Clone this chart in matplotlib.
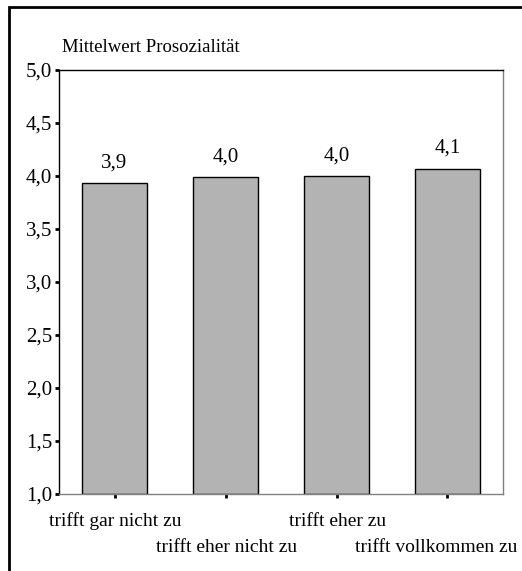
import numpy as np
import matplotlib.pyplot as plt
from matplotlib.patches import Rectangle

plt.rcParams['font.family'] = ['Liberation Serif', 'DejaVu Serif']

categories = ["trifft gar nicht zu", "trifft eher nicht zu", "trifft eher zu", "trifft vollkommen zu"]
means = [3.93, 3.99, 4.00, 4.07]
value_labels = ["3,9", "4,0", "4,0", "4,1"]
yticks = [1.0, 1.5, 2.0, 2.5, 3.0, 3.5, 4.0, 4.5, 5.0]
ytick_labels = ["1,0", "1,5", "2,0", "2,5", "3,0", "3,5", "4,0", "4,5", "5,0"]

W, H = 522, 571
fig = plt.figure(figsize=(W / 100, H / 100), dpi=100)

# outer frame (only left & top visible, rest clipped off)
fig.patches.append(Rectangle((9 / W, -0.05), 1.2, (H - 7) / H + 0.05, transform=fig.transFigure,
                             fill=False, edgecolor='black', linewidth=2))

ax = fig.add_axes([59 / W, 1 - 494 / H, (503 - 59) / W, (494 - 70) / H])
x = np.arange(len(categories))
ax.bar(x, [m - 1.0 for m in means], bottom=1.0, width=0.58, color='#b3b3b3',
       edgecolor='black', linewidth=1.0, zorder=2)
for xi, m, lab in zip(x, means, value_labels):
    ax.text(xi, m + 0.1, lab, ha='center', va='bottom', fontsize=15)

ax.set_xlim(-0.5, len(categories) - 0.5)
ax.set_ylim(1.0, 5.0)
ax.set_yticks(yticks)
ax.set_yticklabels(ytick_labels, fontsize=15)
ax.set_xticks(x)
ax.set_xticklabels([])
ax.tick_params(axis='both', direction='out', length=3, width=2, pad=2)
for s in ['left', 'top']:
    ax.spines[s].set_linewidth(1.0)
for s in ['right', 'bottom']:
    ax.spines[s].set_color('#808080')
    ax.spines[s].set_linewidth(1.0)

# staggered category labels (last one pushed left to stay inside the frame)
for xi, cat in zip(x, categories):
    off = -27 if xi % 2 == 0 else -53
    dx = -11 if xi == len(categories) - 1 else 1
    ax.annotate(cat, (xi, 1.0), xytext=(dx, off), textcoords='offset pixels',
                ha='center', va='center', fontsize=14)

fig.text(62 / W, 1 - 48 / H, "Mittelwert Prosozialität", ha='left', va='center', fontsize=13.5)

fig.savefig("out.png", dpi=100)
